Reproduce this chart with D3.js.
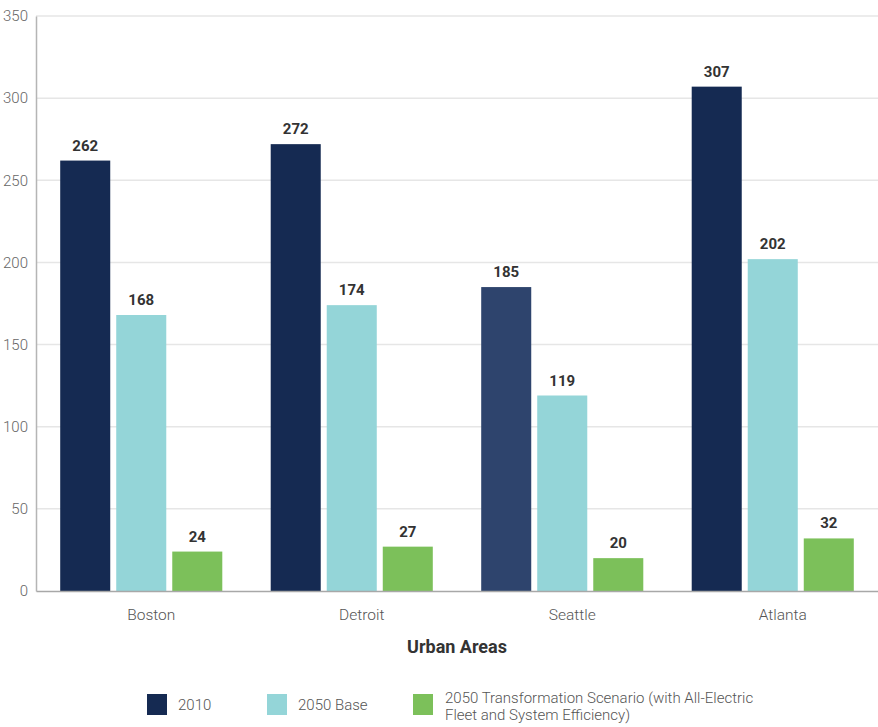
<!DOCTYPE html>
<html>
<head>
<meta charset="utf-8">
<script src="https://cdn.jsdelivr.net/npm/d3@7"></script>
<style>
  body { margin: 0; background: #fff; font-family: Roboto, "Noto Sans", sans-serif; }
</style>
</head>
<body>
<script>
// data
var cities = ["Boston", "Detroit", "Seattle", "Atlanta"];
var seriesNames = ["2010", "2050 Base", "2050 Transformation Scenario (with All-Electric Fleet and System Efficiency)"];
var values2010 = [262, 272, 185, 307];
var valuesBase = [168, 174, 119, 202];
var valuesTransform = [24, 27, 20, 32];
var yTicks = [0, 50, 100, 150, 200, 250, 300, 350];

var colors = ["#152a52", "#94d5d8", "#7cc05a"];
var seattleNavy = "#2e446d";

var W = 878, H = 727;
var margin = { left: 36, right: 0, top: 16, bottom: 136 };

var svg = d3.select("body").append("svg")
    .attr("width", W)
    .attr("height", H);

var x0 = d3.scaleBand()
    .domain(cities)
    .range([margin.left, W - margin.right])
    .paddingInner(0.23)
    .paddingOuter(0.115);

var x1 = d3.scaleBand()
    .domain([0, 1, 2])
    .range([0, x0.bandwidth()])
    .paddingInner(0.107);

var y = d3.scaleLinear()
    .domain([0, 350])
    .range([H - margin.bottom, margin.top]);

// gridlines
svg.append("g")
    .selectAll("line")
    .data(yTicks.slice(1))
    .enter()
    .append("line")
    .attr("x1", margin.left)
    .attr("x2", W)
    .attr("y1", function(d) { return y(d); })
    .attr("y2", function(d) { return y(d); })
    .attr("stroke", "#e6e6e6")
    .attr("stroke-width", 1.5);

// y axis
var yAxis = svg.append("g")
    .attr("transform", "translate(" + margin.left + ",0)")
    .call(d3.axisLeft(y).tickValues(yTicks).tickSize(0).tickPadding(8));
yAxis.select(".domain").attr("stroke", "#b5b5b5").attr("stroke-width", 1.5);
yAxis.selectAll("text")
    .attr("fill", "#666")
    .style("font-size", "15px")
    .style("font-family", "Roboto")
    .style("font-weight", 300);

var data = cities.map(function(c, i) {
    return { city: c, vals: [values2010[i], valuesBase[i], valuesTransform[i]] };
});

var groups = svg.selectAll("g.city")
    .data(data)
    .enter()
    .append("g")
    .attr("class", "city")
    .attr("transform", function(d) { return "translate(" + x0(d.city) + ",0)"; });

groups.selectAll("rect")
    .data(function(d) { return d.vals.map(function(v, k) { return { k: k, v: v, city: d.city }; }); })
    .enter()
    .append("rect")
    .attr("x", function(d) { return x1(d.k); })
    .attr("y", function(d) { return y(d.v); })
    .attr("width", x1.bandwidth())
    .attr("height", function(d) { return y(0) - y(d.v); })
    .attr("fill", function(d) {
        if (d.k === 0 && d.city === "Seattle") {
            return seattleNavy;
        }
        return colors[d.k];
    });

groups.selectAll("text.val")
    .data(function(d) { return d.vals.map(function(v, k) { return { k: k, v: v }; }); })
    .enter()
    .append("text")
    .attr("class", "val")
    .attr("x", function(d) { return x1(d.k) + x1.bandwidth() / 2; })
    .attr("y", function(d) { return y(d.v) - 10; })
    .attr("text-anchor", "middle")
    .attr("fill", "#333")
    .style("font-size", "15px")
    .style("font-weight", "bold")
    .text(function(d) { return d.v; });

// x axis
var xAxis = svg.append("g")
    .attr("transform", "translate(0," + y(0) + ")")
    .call(d3.axisBottom(x0).tickSize(0).tickPadding(18));
xAxis.select(".domain").attr("stroke", "#a8a8a8").attr("stroke-width", 1.5);
xAxis.selectAll("text")
    .attr("dx", 10)
    .attr("fill", "#555")
    .style("font-size", "15.5px")
    .style("font-family", "Roboto")
    .style("font-weight", 300);

svg.append("text")
    .attr("x", (margin.left + W) / 2)
    .attr("y", 653)
    .attr("text-anchor", "middle")
    .attr("fill", "#333")
    .style("font-size", "18px")
    .style("font-weight", "bold")
    .text("Urban Areas");

// legend
var legendX = [147, 267, 413];
var legend = svg.selectAll("g.legend")
    .data(seriesNames)
    .enter()
    .append("g")
    .attr("class", "legend")
    .attr("transform", function(d, i) { return "translate(" + legendX[i] + ",694)"; });

legend.append("rect")
    .attr("width", 20)
    .attr("height", 21)
    .attr("fill", function(d, i) { return colors[i]; });

legend.each(function(d, i) {
    var t = d3.select(this).append("text")
        .attr("x", 31)
        .attr("fill", "#555")
        .style("font-size", "15px")
        .style("font-weight", 300);
    if (i < 2) {
        t.attr("y", 16).text(d);
    } else {
        t.append("tspan").attr("x", 32).attr("y", 9).text("2050 Transformation Scenario (with All-Electric");
        t.append("tspan").attr("x", 32).attr("y", 26).text("Fleet and System Efficiency)");
    }
});
</script>
</body>
</html>
